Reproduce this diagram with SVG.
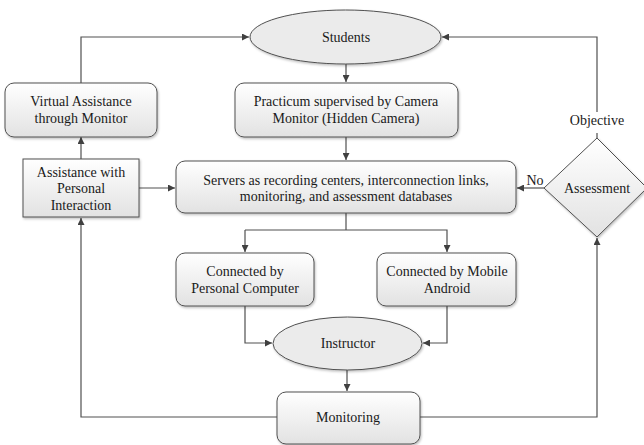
<svg xmlns="http://www.w3.org/2000/svg" width="644" height="445" viewBox="0 0 644 445">
<defs>
<linearGradient id="g" x1="0" y1="0" x2="0" y2="1">
<stop offset="0" stop-color="#ffffff"/>
<stop offset="1" stop-color="#e2e2e2"/>
</linearGradient>
<filter id="sh" x="-10%" y="-10%" width="130%" height="140%">
<feDropShadow dx="1" dy="1.5" stdDeviation="1" flood-color="#000" flood-opacity="0.25"/>
</filter>
<marker id="ar" viewBox="0 0 10 10" refX="10" refY="5" markerWidth="7" markerHeight="7" markerUnits="userSpaceOnUse" orient="auto">
<path d="M0,0 L10,5 L0,10 z" fill="#404040"/>
</marker>
</defs>
<style>
.n{fill:url(#g);stroke:#505050;stroke-width:1;filter:url(#sh)}
.e{fill:#ebebeb;stroke:#505050;stroke-width:1;filter:url(#sh)}
text{font-family:"Liberation Serif","Times New Roman",serif;font-size:14px;fill:#1a1a1a;text-anchor:middle}
.c{fill:none;stroke:#505050;stroke-width:1.2;marker-end:url(#ar)}
.l{fill:none;stroke:#505050;stroke-width:1.2}
</style>
<rect width="644" height="445" fill="#fff"/>
<g id="connectors">
<path class="c" d="M81,83 V37 H249"/>
<path class="c" d="M81,159 V137"/>
<path class="c" d="M139,188 H175"/>
<path class="c" d="M346,64 V82"/>
<path class="c" d="M346,137 V160"/>
<path class="l" d="M597,138 V133"/>
<path class="c" d="M597,112 V37 H442"/>
<path class="c" d="M544,188 H517"/>
<path class="l" d="M346,213 V230"/>
<path class="c" d="M245,230 H447 V252"/>
<path class="c" d="M245,230 V252"/>
<path class="c" d="M245,306 V343 H272"/>
<path class="c" d="M447,306 V343 H423"/>
<path class="c" d="M347,370 V391"/>
<path class="c" d="M277,417 H81 V218"/>
<path class="c" d="M420,417 H597 V238"/>
</g>
<g id="students"><ellipse class="e" cx="345.5" cy="37" rx="95.5" ry="27"/><text x="346" y="42">Students</text></g>
<g id="virtual"><rect class="n" x="5" y="83" width="152" height="54" rx="9"/><text x="81" y="106">Virtual Assistance</text><text x="81" y="123">through Monitor</text></g>
<g id="practicum"><rect class="n" x="235" y="83" width="223" height="54" rx="9"/><text x="346" y="106">Practicum supervised by Camera</text><text x="346" y="123">Monitor (Hidden Camera)</text></g>
<g id="personal"><rect class="n" x="23" y="159" width="116" height="58"/><text x="81" y="177">Assistance with</text><text x="81" y="193">Personal</text><text x="81" y="210">Interaction</text></g>
<g id="servers"><rect class="n" x="176" y="161" width="340" height="52" rx="9"/><text x="346" y="185">Servers as recording centers, interconnection links,</text><text x="346" y="201">monitoring, and assessment databases</text></g>
<g id="assessment"><polygon class="n" points="597,138 647,188 597,237 544,188"/><text x="597" y="193">Assessment</text></g>
<g id="objective-label"><text x="597" y="125">Objective</text></g>
<g id="no-label"><text x="535" y="185">No</text></g>
<g id="pc"><rect class="n" x="176" y="253" width="138" height="53" rx="9"/><text x="245" y="276">Connected by</text><text x="245" y="293">Personal Computer</text></g>
<g id="mobile"><rect class="n" x="377" y="253" width="139" height="53" rx="9"/><text x="447" y="276">Connected by Mobile</text><text x="447" y="293">Android</text></g>
<g id="instructor"><ellipse class="e" cx="347.5" cy="343.5" rx="74.5" ry="26.5"/><text x="348" y="348">Instructor</text></g>
<g id="monitoring"><rect class="n" x="277" y="392" width="143" height="52" rx="9"/><text x="348" y="422">Monitoring</text></g>
</svg>
